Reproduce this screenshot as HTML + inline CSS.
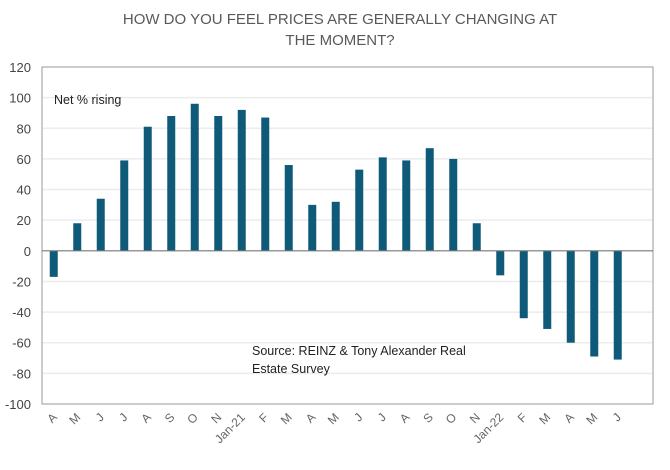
<!DOCTYPE html>
<html><head><meta charset="utf-8"><style>
body{margin:0;background:#fff;font-family:"Liberation Sans",sans-serif}
svg{display:block}
</style></head><body>
<svg id="chart" width="670" height="470">
<text x="340" y="24" text-anchor="middle" font-size="15" fill="#595959">HOW DO YOU FEEL PRICES ARE GENERALLY CHANGING AT</text>
<text x="340" y="45" text-anchor="middle" font-size="15" fill="#595959">THE MOMENT?</text>
</svg>
<script>
const categories=["A","M","J","J","A","S","O","N","Jan-21","F","M","A","M","J","J","A","S","O","N","Jan-22","F","M","A","M","J"];
const values=[-17,18,34,59,81,88,96,88,92,87,56,30,32,53,61,59,67,60,18,-16,-44,-51,-60,-69,-71];
const yTicks=[120,100,80,60,40,20,0,-20,-40,-60,-80,-100];
const svg=document.getElementById('chart');const NS='http://www.w3.org/2000/svg';
const L=42,R=653,T=67,B=404,yMin=-100,yMax=120,nBands=26;
const band=(R-L)/nBands;
const y=v=>T+(yMax-v)/(yMax-yMin)*(B-T);
const x=i=>L+(i+0.5)*band;
function mk(tag,a){const e=document.createElementNS(NS,tag);for(const k in a)e.setAttribute(k,a[k]);svg.appendChild(e);return e;}
yTicks.forEach(t=>{
 if(t!==yMax&&t!==yMin&&t!==0){const g=mk('line',{x1:L,x2:R,y1:y(t),y2:y(t),stroke:'#ececec','stroke-width':1.5});
 
 }
 const tx=mk('text',{x:31,y:y(t)+5,'text-anchor':'end','font-size':13,fill:'#444'});tx.textContent=t;
 
 
});
const frame=mk('rect',{x:L,y:T,width:R-L,height:B-T,fill:'none',stroke:'#999','stroke-width':1});


values.forEach((v,i)=>{
 const b=mk('rect',{x:x(i)-4,y:Math.min(y(v),y(0)),width:8,height:Math.abs(y(v)-y(0)),fill:'#0e5a78'});
 
 
 const lb=mk('text',{x:x(i)+4,y:B+14,'text-anchor':'end','font-size':12,fill:'#666',transform:`rotate(-45 ${x(i)+4} ${B+14})`});lb.textContent=categories[i];
 
 
});
const z=mk('line',{x1:L,x2:R,y1:y(0),y2:y(0),stroke:'#777','stroke-width':1.2});


const n=mk('text',{x:54,y:104,'font-size':12.5,fill:'#222'});n.textContent='Net % rising';


const s1=mk('text',{x:252,y:355,'font-size':12.5,fill:'#222'});s1.textContent='Source: REINZ & Tony Alexander Real';


const s2=mk('text',{x:252,y:373,'font-size':12.5,fill:'#222'});s2.textContent='Estate Survey';


</script>
</body></html>
